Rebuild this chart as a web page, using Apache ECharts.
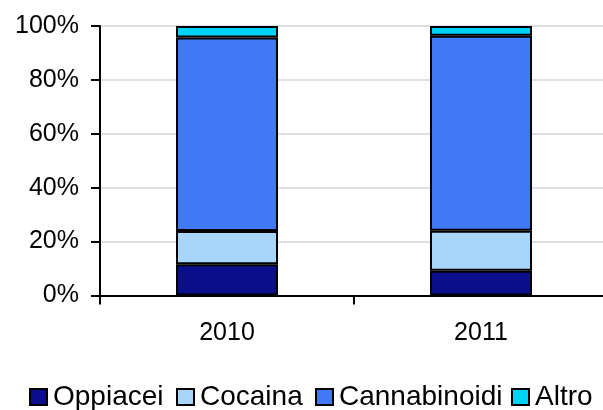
<!DOCTYPE html>
<html>
<head>
<meta charset="utf-8">
<script src="https://cdn.jsdelivr.net/npm/echarts@6/dist/echarts.min.js"></script>
<style>
  html, body { margin: 0; padding: 0; background: #ffffff; overflow: hidden; width: 603px; height: 410px; }
  #chart { width: 608px; height: 410px; }
</style>
</head>
<body>
<div id="chart"></div>
<script>
// Share of treatment by substance, per year (percent of total)
const years = ['2010', '2011'];
const oppiacei = [11.6, 9.2];
const cocaina = [12.3, 14.8];
const cannabinoidi = [71.8, 72.4];
const altro = [4.3, 3.6];
const yTicks = [0, 20, 40, 60, 80, 100];

const seriesNames = ['Oppiacei', 'Cocaina', 'Cannabinoidi', 'Altro'];
const seriesValues = [oppiacei, cocaina, cannabinoidi, altro];
const seriesColors = ['#0b0f8c', '#a8d5fa', '#4079f5', '#00d3f7'];

const font = 'Arial, "Liberation Sans", sans-serif';

// one legend entry per block, laid out left to right along the bottom
const legendLeft = [29, 176, 315, 511];
const legends = seriesNames.map((name, i) => ({
  data: [name],
  left: legendLeft[i],
  top: 383,
  padding: 0,
  itemWidth: 17,
  itemHeight: 16,
  icon: 'rect',
  itemStyle: { borderColor: '#000000', borderWidth: 2 },
  textStyle: { fontFamily: font, fontSize: 28, color: '#000000', padding: [0, 0, 0, 1] }
}));

const chart = echarts.init(document.getElementById('chart'), null, { renderer: 'canvas' });

chart.setOption({
  animation: false,
  backgroundColor: '#ffffff',
  // the plot runs a few pixels past the visible right edge
  grid: { left: 100, top: 26, right: 0, bottom: 114.5, containLabel: false },
  legend: legends,
  xAxis: {
    type: 'category',
    data: years,
    axisLine: { lineStyle: { color: '#000000', width: 2 } },
    axisTick: { show: true, length: 9, lineStyle: { color: '#000000', width: 2 } },
    axisLabel: { fontFamily: font, fontSize: 25, color: '#000000', margin: 25 }
  },
  yAxis: {
    type: 'value',
    min: yTicks[0],
    max: yTicks[yTicks.length - 1],
    interval: yTicks[1] - yTicks[0],
    axisLine: { show: true, lineStyle: { color: '#000000', width: 2 } },
    axisTick: { show: true, length: 9, lineStyle: { color: '#000000', width: 2 } },
    axisLabel: { fontFamily: font, fontSize: 25, color: '#000000', margin: 21, formatter: '{value}%' },
    splitLine: { show: true, lineStyle: { color: '#d4d4d4', width: 1.5 } }
  },
  series: seriesNames.map((name, i) => ({
    name: name,
    type: 'bar',
    stack: 'totale',
    barWidth: 102,
    data: seriesValues[i],
    itemStyle: { color: seriesColors[i], borderColor: '#000000', borderWidth: 2 }
  }))
});
</script>
</body>
</html>
